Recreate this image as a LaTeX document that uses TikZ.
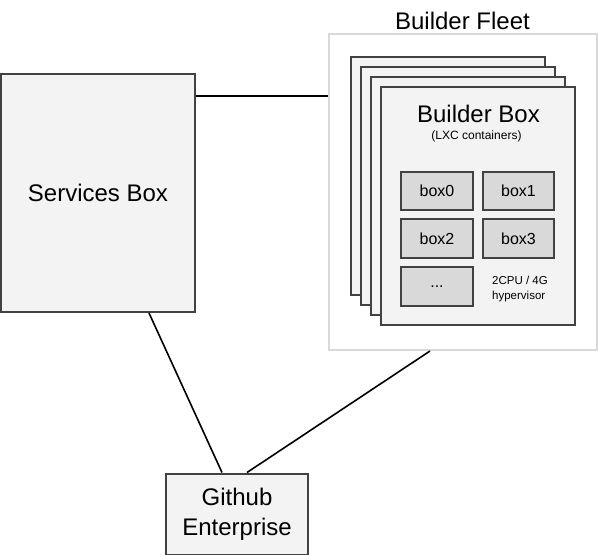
\documentclass[tikz,border=0pt]{standalone}
\usepackage{fontspec}
\setmainfont{Liberation Sans}
\usetikzlibrary{calc}
\definecolor{boxfill}{HTML}{F3F3F3}
\definecolor{innerfill}{HTML}{D9D9D9}
\definecolor{edgecol}{HTML}{424242}
\definecolor{fleetedge}{HTML}{D9D9D9}
\begin{document}
\begin{tikzpicture}[x=1pt,y=-1pt,
  box/.style={draw=edgecol,line width=2pt,fill=boxfill,inner sep=0pt,align=center},
  bigbox/.style={box,minimum width=194pt,minimum height=238pt},
  innerbox/.style={draw=edgecol,line width=2pt,fill=innerfill,inner sep=0pt,
    minimum height=38pt,font=\fontsize{16}{19}\selectfont},
  fleetbox/.style={draw=fleetedge,line width=2pt,fill=white,inner sep=0pt,
    minimum width=268pt,minimum height=316pt},
  conn/.style={draw=black,line width=1.6pt},
  bigtext/.style={font=\fontsize{24}{30}\selectfont},
  smalltext/.style={font=\fontsize{11.5}{15}\selectfont,inner sep=0pt}]
\useasboundingbox (0,0) rectangle (598,555);

% Services box
\node[box,bigtext,minimum width=194pt,minimum height=238pt] (svc) at (98,193) {Services Box};

% Builder fleet
\node[fleetbox] (fleet) at (463,192) {};
\node[bigtext,anchor=base,inner sep=0pt] (fleetlbl) at (462.5,29) {Builder Fleet};

\node[bigbox] (bbA) at (448,176) {};
\node[bigbox] (bbB) at (458,186) {};
\node[bigbox] (bbC) at (468,196) {};
\node[bigbox] (bbD) at (478,206) {};

\node[bigtext,anchor=base,inner sep=0pt] (bbtitle) at (478.5,122) {Builder Box};
\node[font=\fontsize{12}{14}\selectfont,anchor=base,inner sep=0pt] (bbsub) at (476.5,139) {(LXC containers)};

\node[innerbox,minimum width=72pt] (box0) at (437,191) {box0};
\node[innerbox,minimum width=71pt] (box1) at (518.5,191) {box1};
\node[innerbox,minimum width=72pt,minimum height=39pt] (box2) at (437,238.5) {box2};
\node[innerbox,minimum width=71pt,minimum height=39pt] (box3) at (518.5,238.5) {box3};
\node[innerbox,minimum width=72pt,minimum height=39pt] (boxdots) at (437,286.5) {...};

\node[smalltext,anchor=base west] (cpu) at (492,284) {2CPU / 4G};
\node[smalltext,anchor=base west] (hyp) at (492,299) {hypervisor};

% Github Enterprise
\node[box,bigtext,minimum width=142pt,minimum height=81pt] (gh) at (237,514) {Github\\Enterprise};

% Connectors
\draw[conn] ($(svc.north east)+(0,23)$) -- ($(fleet.north west)+(0,63)$);
\draw[conn] ($(svc.south)+(51,0)$) -- ($(gh.north)+(-15,0)$);
\draw[conn] ($(fleet.south)+(-33,0)$) -- ($(gh.north)+(10,0)$);
\end{tikzpicture}
\end{document}
